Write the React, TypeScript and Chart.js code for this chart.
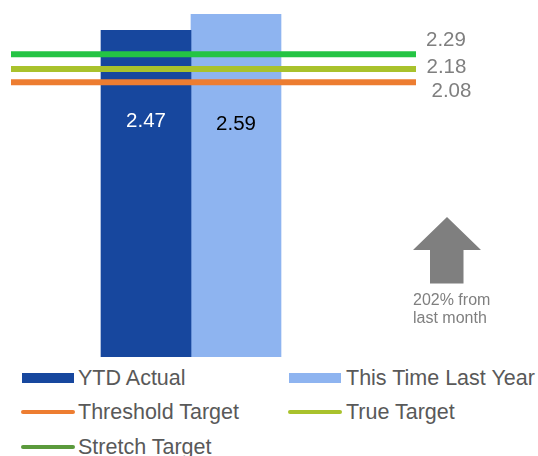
import React, { useEffect, useRef } from 'react';
import { Chart, registerables } from 'chart.js';

Chart.register(...registerables);

// ---- data ----
const categories = ['YTD Actual', 'This Time Last Year'];
const barValues = [2.47, 2.59];
const barColors = ['#17479E', '#8EB4F0'];
const barLabelColors = ['#FFFFFF', '#000000'];

const targetNames = ['Threshold Target', 'True Target', 'Stretch Target'];
const targetValues = [2.08, 2.18, 2.29];
const targetColors = ['#ED7D31', '#A9C22C', '#24C444'];
const targetLegendColors = ['#ED7D31', '#A9C22C', '#5B9A3C'];

const changeLines = ['202% from', 'last month'];

// ---- layout / style ----
const X_MIN = -0.5;
const X_MAX = 4;
const Y_MAX = 2.6;
const FONT = "'Liberation Sans', Arial, sans-serif";
const barLabelDy = [97, 116];
const targetLabelDx = [15.5, 10.5, 10];
const targetLabelDy = [15, 4.5, -8.5];

const labelPlugin = {
  id: 'valueLabels',
  afterDatasetsDraw(chart: any) {
    const ctx = chart.ctx;
    ctx.save();
    ctx.font = `20.5px ${FONT}`;
    ctx.textBaseline = 'alphabetic';
    chart.data.datasets.forEach((ds: any, di: number) => {
      if (ds.type !== 'bar') return;
      const i = ds.catIndex;
      const el = chart.getDatasetMeta(di).data[0];
      if (!el) return;
      ctx.fillStyle = barLabelColors[i];
      ctx.textAlign = 'center';
      ctx.fillText(barValues[i].toFixed(2), el.x, el.y + barLabelDy[i]);
    });
    const xEnd = chart.scales.x.getPixelForValue(X_MAX);
    targetValues.forEach((v, i) => {
      const y = chart.scales.y.getPixelForValue(v);
      ctx.fillStyle = '#7F7F7F';
      ctx.textAlign = 'left';
      ctx.fillText(v.toFixed(2), xEnd + targetLabelDx[i], y + targetLabelDy[i]);
    });
    ctx.restore();
  },
};

export default function App() {
  const canvasRef = useRef<HTMLCanvasElement | null>(null);

  useEffect(() => {
    if (!canvasRef.current) return;
    const lineSets = targetNames.map((name, i) => ({
      type: 'line' as const,
      label: name,
      data: [
        { x: X_MIN, y: targetValues[i] },
        { x: X_MAX, y: targetValues[i] },
      ],
      borderColor: targetColors[i],
      backgroundColor: targetColors[i],
      borderWidth: 6,
      borderCapStyle: 'butt',
      pointRadius: 0,
      fill: false,
      order: 0,
    }));
    const barSets = categories.map((name, i) => ({
      type: 'bar' as const,
      label: name,
      catIndex: i,
      data: [{ x: i + 1, y: barValues[i] }],
      backgroundColor: barColors[i],
      borderWidth: 0,
      grouped: false,
      barPercentage: 1,
      categoryPercentage: 1,
      order: 1,
    }));

    const chart = new Chart(canvasRef.current, {
      type: 'bar',
      data: { datasets: [...lineSets, ...barSets] as any },
      options: {
        animation: false,
        responsive: false,
        maintainAspectRatio: false,
        devicePixelRatio: 1,
        layout: { padding: { left: 11, right: 122, top: 13, bottom: 1 } },
        scales: {
          x: {
            type: 'linear',
            min: X_MIN,
            max: X_MAX,
            bounds: 'data',
            offset: false,
            display: false,
            ticks: { stepSize: 1, includeBounds: false },
            grid: { display: false, offset: false },
            afterBuildTicks: (axis: any) => {
              axis.ticks = axis.ticks.filter((t: any) => Number.isInteger(t.value));
            },
          },
          y: {
            type: 'linear',
            min: 0,
            max: Y_MAX,
            display: false,
            grid: { display: false },
          },
        },
        plugins: {
          legend: { display: false },
          tooltip: { enabled: false },
        },
      } as any,
      plugins: [labelPlugin],
    });
    return () => chart.destroy();
  }, []);

  const legendItems = [
    ...categories.map((name, i) => ({ name, color: barColors[i], kind: 'box' })),
    ...targetNames.map((name, i) => ({ name, color: targetLegendColors[i], kind: 'line' })),
  ];
  const colMarker = [21, 288];
  const colText = [78, 346];
  const rowTop = [365.5, 400, 434.5];

  return (
    <div
      style={{
        position: 'absolute',
        left: 0,
        top: 0,
        width: 538,
        height: 456,
        background: '#FFFFFF',
        fontFamily: FONT,
        overflow: 'hidden',
      }}
    >
      <div style={{ position: 'absolute', left: 0, top: 0, width: 538, height: 357, overflow: 'hidden' }}>
        <canvas ref={canvasRef} width={538} height={360} style={{ width: 538, height: 360, display: 'block' }} />
      </div>

      <svg style={{ position: 'absolute', left: 413, top: 217 }} width={68} height={67}>
        <polygon points="34,0 68,33 50.5,33 50.5,66.5 17,66.5 17,33 0,33" fill="#7F7F7F" />
      </svg>
      <div
        style={{
          position: 'absolute',
          left: 413,
          top: 291,
          fontSize: 16,
          lineHeight: '17.5px',
          color: '#7F7F7F',
          whiteSpace: 'nowrap',
        }}
      >
        {changeLines.map((t) => (
          <div key={t}>{t}</div>
        ))}
      </div>

      {legendItems.map((it, k) => {
        const col = k % 2;
        const row = Math.floor(k / 2);
        const top = rowTop[row];
        return (
          <div key={it.name}>
            {it.kind === 'box' ? (
              <div
                style={{
                  position: 'absolute',
                  left: colMarker[col] + 1,
                  top: top + 7,
                  width: 51.5,
                  height: 10,
                  background: it.color,
                }}
              />
            ) : (
              <div
                style={{
                  position: 'absolute',
                  left: colMarker[col],
                  top: top + 10,
                  width: 54,
                  height: 4,
                  borderRadius: 2,
                  background: it.color,
                }}
              />
            )}
            <div
              style={{
                position: 'absolute',
                left: colText[col],
                top,
                fontSize: 21.5,
                lineHeight: '24px',
                color: '#595959',
                whiteSpace: 'nowrap',
              }}
            >
              {it.name}
            </div>
          </div>
        );
      })}
    </div>
  );
}
